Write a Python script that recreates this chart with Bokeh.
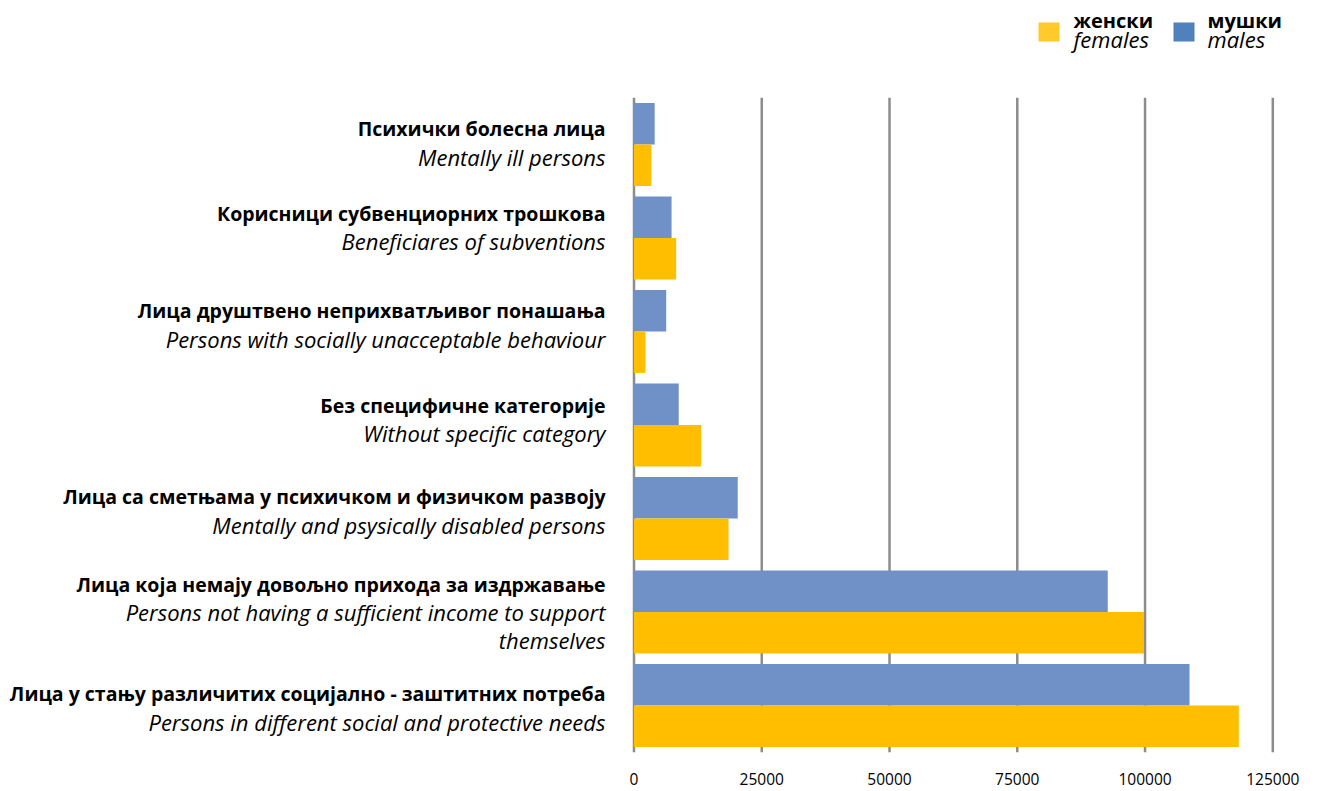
from bokeh.plotting import figure
from bokeh.models import ColumnDataSource, Range1d, FixedTicker
from bokeh.core.properties import value
from bokeh.embed import file_html
from bokeh.resources import INLINE

# ---------------- data ----------------
categories_sr = [
    "Психички болесна лица",
    "Корисници субвенциорних трошкова",
    "Лица друштвено неприхватљивог понашања",
    "Без специфичне категорије",
    "Лица са сметњама у психичком и физичком развоју",
    "Лица која немају довољно прихода за издржавање",
    "Лица у стању различитих социјално - заштитних потреба",
]
categories_en = [
    ["Mentally ill persons"],
    ["Beneficiares of subventions"],
    ["Persons with socially unacceptable behaviour"],
    ["Without specific category"],
    ["Mentally and psysically disabled persons"],
    ["Persons not having a sufficient income to support", "themselves"],
    ["Persons in different social and protective needs"],
]
females = [3400, 8250, 2250, 13150, 18500, 99800, 118350]
males = [4050, 7350, 6300, 8750, 20300, 92700, 108700]
ticks = [0, 25000, 50000, 75000, 100000, 125000]
tick_labels = ["0", "25000", "50000", "75000", "100000", "125000"]
legend_sr = ["женски", "мушки"]
legend_en = ["females", "males"]

# ---------------- layout / style ----------------
FONT = "Open Sans"
W, H = 1316, 791
AXIS_H = 31
FRAME_H = H - AXIS_H
X_ZERO = 633.5          # canvas px of value 0
X_MAX_PX = 1272.3       # canvas px of the last tick
KX = (X_MAX_PX - X_ZERO) / ticks[-1]
FIRST_CAT_PX = 144.0    # canvas px of the first category centre
CAT_STEP = 93.5
n = len(categories_sr)
Y0 = FIRST_CAT_PX + (n - 1) * CAT_STEP
KY = CAT_STEP
BAR_H = 0.443
LINE_PX = 28
LABEL_RIGHT_PX = 605
LABEL_NUDGE_PX = [-2, -11, -7, -6, -8, 0, 2]
BOLD_SIZE = "19.5px"
ITAL_SIZE = "22px"
FEMALE_COLOR = "#FFBF00"
MALE_COLOR = "#7090C8"
LEG_FEMALE = "#FFCA2A"
LEG_MALE = "#4F81BD"
GRID_COLOR = "#8C8C8C"


def xd(px):
    return (px - X_ZERO) / KX


def yd(py):
    return (Y0 - py) / KY


p = figure(
    width=W, height=H,
    x_range=Range1d(xd(0), xd(W)),
    y_range=Range1d(yd(FRAME_H), yd(0)),
    output_backend="svg", toolbar_location=None, tools="",
    y_axis_location=None,
    min_border_left=0, min_border_right=0, min_border_top=0,
    min_border_bottom=AXIS_H,
)
p.outline_line_color = None
p.xgrid.visible = False
p.ygrid.visible = False
p.background_fill_color = "white"
p.border_fill_color = "white"

# gridlines (limited to the plot area)
p.segment(x0=ticks, x1=ticks, y0=[-0.5] * len(ticks), y1=[n - 0.5] * len(ticks),
          line_color=GRID_COLOR, line_width=2.5)

yc = [n - 1 - i for i in range(n)]
src = ColumnDataSource(dict(
    ym=[y + BAR_H / 2 for y in yc],
    yf=[y - BAR_H / 2 for y in yc],
    males=males, females=females,
))
p.hbar(y="ym", left=0, right="males", height=BAR_H, source=src,
       fill_color=MALE_COLOR, line_color=None)
p.hbar(y="yf", left=0, right="females", height=BAR_H, source=src,
       fill_color=FEMALE_COLOR, line_color=None)

# category labels
bx, by, bt, ix, iy, it = [], [], [], [], [], []
for i in range(n):
    lines = [categories_sr[i]] + categories_en[i]
    centre = FIRST_CAT_PX + i * CAT_STEP + LABEL_NUDGE_PX[i]
    for k, t in enumerate(lines):
        py = centre + (k - (len(lines) - 1) / 2) * LINE_PX
        if k == 0:
            bx.append(xd(LABEL_RIGHT_PX)); by.append(yd(py)); bt.append(t)
        else:
            ix.append(xd(LABEL_RIGHT_PX)); iy.append(yd(py)); it.append(t)

p.text(x=bx, y=by, text=bt, text_align="right", text_baseline="middle",
       text_font=value(FONT), text_font_size=BOLD_SIZE, text_font_style="bold",
       text_color="#000000")
p.text(x=ix, y=iy, text=it, text_align="right", text_baseline="middle",
       text_font=value(FONT), text_font_size=ITAL_SIZE, text_font_style="italic",
       text_color="#000000")

# legend
p.rect(x=[xd(1048.5), xd(1183.5)], y=[yd(31.5)] * 2, width=21, height=19,
       width_units="screen", height_units="screen",
       fill_color=[LEG_FEMALE, LEG_MALE], line_color=None)
p.text(x=[xd(1073), xd(1207)], y=[yd(20)] * 2, text=legend_sr,
       text_align="left", text_baseline="middle",
       text_font=value(FONT), text_font_size="20px", text_font_style="bold",
       text_color="#000000")
p.text(x=[xd(1073), xd(1207)], y=[yd(38)] * 2, text=legend_en,
       text_align="left", text_baseline="middle",
       text_font=value(FONT), text_font_size="22px", text_font_style="italic",
       text_color="#000000")

# x axis
ax = p.xaxis[0]
ax.ticker = FixedTicker(ticks=ticks)
ax.major_label_overrides = {t: l for t, l in zip(ticks, tick_labels)}
ax.axis_line_color = None
ax.major_tick_line_color = None
ax.minor_tick_line_color = None
ax.major_label_standoff = 6
ax.major_label_text_font = FONT
ax.major_label_text_font_size = "15.5px"
ax.major_label_text_color = "#000000"

open("out.html", "w").write(file_html(p, INLINE))
